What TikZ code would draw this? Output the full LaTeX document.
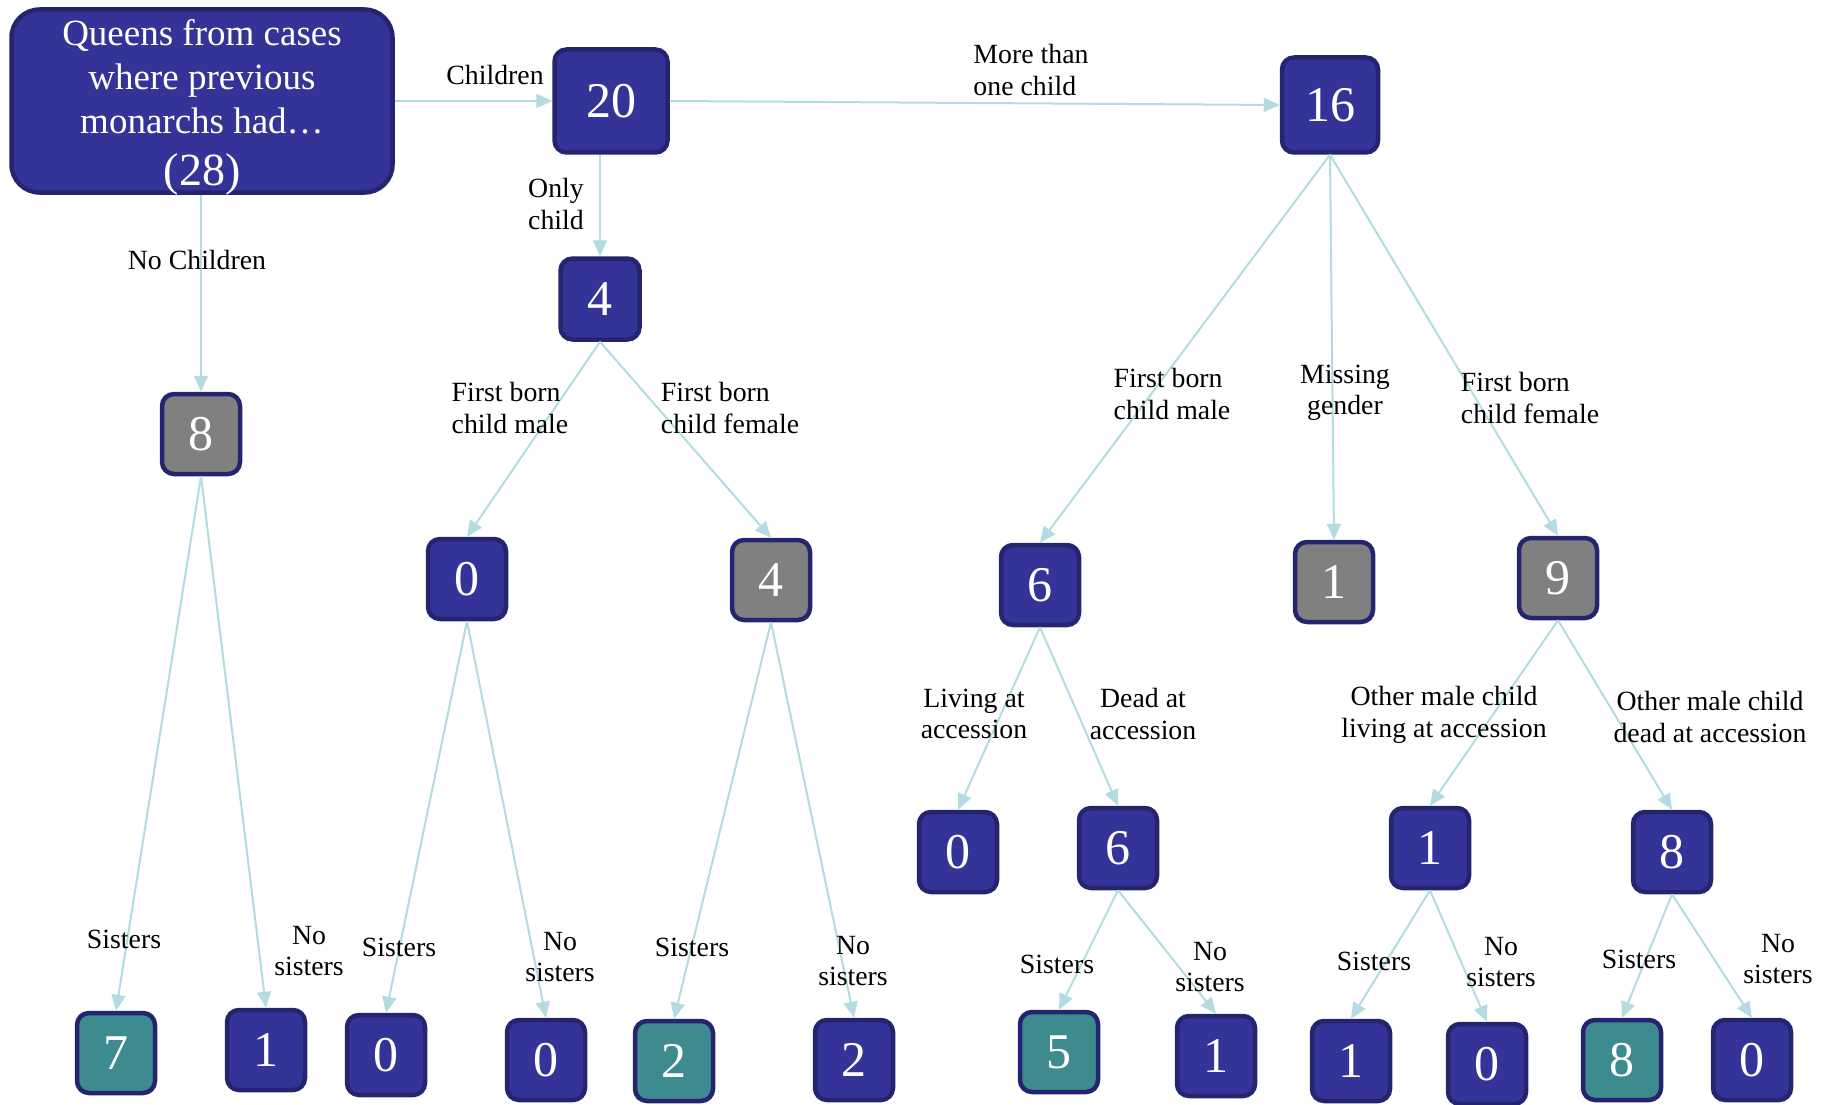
\documentclass[tikz,border=0pt]{standalone}
\usepackage{fontspec}
\setmainfont{Liberation Serif}
\usetikzlibrary{arrows.meta}
\definecolor{boxblue}{HTML}{343498}
\definecolor{boxedge}{HTML}{25256F}
\definecolor{boxgrey}{HTML}{808080}
\definecolor{boxteal}{HTML}{3D8A8F}
\definecolor{arrowc}{HTML}{B2DCE0}
\tikzset{
  nbox/.style={draw=boxedge, line width=4.5pt, rounded corners=12pt, fill=boxblue,
    text=white, minimum width=78pt, minimum height=80pt, inner sep=0pt,
    font=\fontsize{50}{56}\selectfont},
  gbox/.style={nbox, fill=boxgrey},
  tbox/.style={nbox, fill=boxteal},
  lab/.style={font=\fontsize{27.8}{31.5}\selectfont, text=black, align=center, inner sep=0pt},
  labl/.style={lab, align=left},
  conn/.style={draw=arrowc, line width=2pt, -{Triangle[length=16pt,width=14pt]}},
}
\begin{document}
\begin{tikzpicture}[x=1pt,y=-1pt]
\useasboundingbox (0,0) rectangle (1829,1105);
% top level
\node[nbox, minimum width=381pt, minimum height=183pt, rounded corners=28pt] (root) at (202,101) {};
\node[text=white, align=center, inner sep=0pt, font=\fontsize{37}{44}\selectfont] (roottxt) at (202,107)
  {Queens from cases\\where previous\\monarchs had\ldots\\[8pt]{\fontsize{46}{50}\selectfont(28)}};
\node[nbox, minimum width=113pt, minimum height=103pt] (n20) at (611,101) {20};
\node[nbox, minimum width=96pt, minimum height=95pt] (n16) at (1330,105) {16};
\node[nbox, minimum width=79pt, minimum height=81pt] (n4) at (600,299) {4};
\node[gbox] (n8) at (201,434) {8};
% second level
\node[nbox] (a0) at (467,579) {0};
\node[gbox] (a4) at (771,580) {4};
\node[nbox] (b6) at (1040,585) {6};
\node[gbox] (b1) at (1334,582) {1};
\node[gbox] (b9) at (1558,578) {9};
% third level
\node[nbox] (c0) at (958,852) {0};
\node[nbox] (c6) at (1118,848) {6};
\node[nbox] (c1) at (1430,848) {1};
\node[nbox] (c8) at (1672,852) {8};
% bottom row
\node[tbox] (d1) at (116,1053) {7};
\node[nbox] (d2) at (266,1050) {1};
\node[nbox] (d3) at (386,1055) {0};
\node[nbox] (d4) at (546,1060) {0};
\node[tbox] (d5) at (674,1061) {2};
\node[nbox] (d6) at (854,1060) {2};
\node[tbox] (d7) at (1059,1052) {5};
\node[nbox] (d8) at (1216,1056) {1};
\node[nbox] (d9) at (1351,1061) {1};
\node[nbox] (d10) at (1487,1064) {0};
\node[tbox] (d11) at (1622,1060) {8};
\node[nbox] (d12) at (1752,1060) {0};
% connectors
\draw[conn] (root.east |- n20.west) -- (n20.west);
\draw[conn] (n20.east) -- (n16.west);
\draw[conn] (n20.south -| n4.north) -- (n4.north);
\draw[conn] (root.south -| n8.north) -- (n8.north);
\draw[conn] (n4.south) -- (a0.north);
\draw[conn] (n4.south) -- (a4.north);
\draw[conn] (n16.south) -- (b6.north);
\draw[conn] (n16.south) -- (b1.north);
\draw[conn] (n16.south) -- (b9.north);
\draw[conn] (b6.south) -- (c0.north);
\draw[conn] (b6.south) -- (c6.north);
\draw[conn] (b9.south) -- (c1.north);
\draw[conn] (b9.south) -- (c8.north);
\draw[conn] (n8.south) -- (d1.north);
\draw[conn] (n8.south) -- (d2.north);
\draw[conn] (a0.south) -- (d3.north);
\draw[conn] (a0.south) -- (d4.north);
\draw[conn] (a4.south) -- (d5.north);
\draw[conn] (a4.south) -- (d6.north);
\draw[conn] (c6.south) -- (d7.north);
\draw[conn] (c6.south) -- (d8.north);
\draw[conn] (c1.south) -- (d9.north);
\draw[conn] (c1.south) -- (d10.north);
\draw[conn] (c8.south) -- (d11.north);
\draw[conn] (c8.south) -- (d12.north);
% labels
\node[lab] (l1) at (495,75) {Children};
\node[labl] (l2) at (1031,70) {More than\\one child};
\node[lab] (l3) at (556,204) {Only\\child};
\node[lab] (l4) at (197,260) {No Children};
\node[labl] (l5) at (510,408) {First born\\child male};
\node[labl] (l6) at (730,408) {First born\\child female};
\node[labl] (l7) at (1172,394) {First born\\child male};
\node[lab] (l8) at (1345,393) {Missing\\gender};
\node[labl] (l9) at (1530,398) {First born\\child female};
\node[lab] (l10) at (974,714) {Living at\\accession};
\node[lab] (l11) at (1143,714) {Dead at\\accession};
\node[lab] (l12) at (1444,715) {Other male child\\living at accession};
\node[lab] (l13) at (1710,717) {Other male child\\dead at accession};
\node[lab] (s1) at (124,939) {Sisters};
\node[lab] (s2) at (309,951) {No\\sisters};
\node[lab] (s3) at (399,947) {Sisters};
\node[lab] (s4) at (560,957) {No\\sisters};
\node[lab] (s5) at (692,947) {Sisters};
\node[lab] (s6) at (853,961) {No\\sisters};
\node[lab] (s7) at (1057,964) {Sisters};
\node[lab] (s8) at (1210,967) {No\\sisters};
\node[lab] (s9) at (1374,961) {Sisters};
\node[lab] (s10) at (1501,962) {No\\sisters};
\node[lab] (s11) at (1639,959) {Sisters};
\node[lab] (s12) at (1778,959) {No\\sisters};
\end{tikzpicture}
\end{document}
